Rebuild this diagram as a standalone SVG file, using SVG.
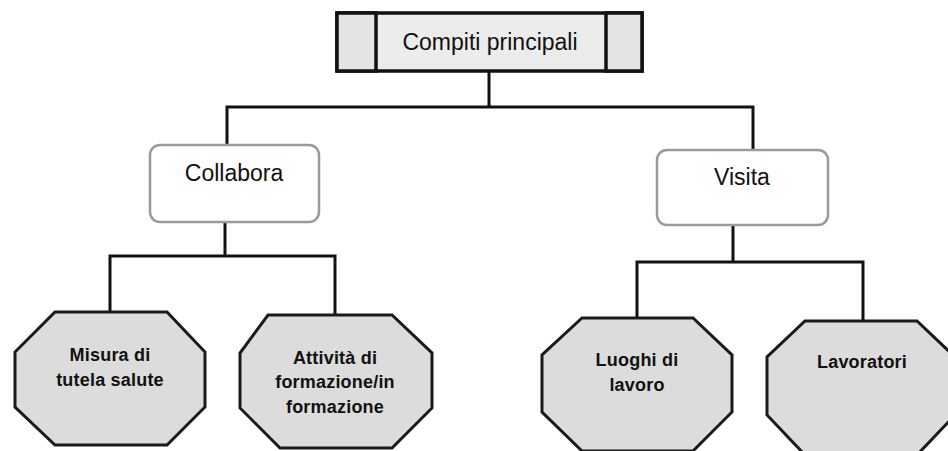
<svg xmlns="http://www.w3.org/2000/svg" width="948" height="451" viewBox="0 0 948 451">
<style>
.conn{stroke:#111;stroke-width:3;fill:none;stroke-linecap:square}
.top{fill:#ececec;stroke:#111;stroke-width:3.5}
.side{fill:#e4e4e4;stroke:#111;stroke-width:3.5}
.rbox{fill:#fff;stroke:#9a9a9a;stroke-width:2.5}
.oct{fill:#dcdcdc;stroke:#1a1a1a;stroke-width:3;stroke-linejoin:miter}
.t1{font-family:"Liberation Sans",Arial,sans-serif;font-size:23px;fill:#111;text-anchor:middle}
.t2{font-family:"Liberation Sans",Arial,sans-serif;font-size:18px;font-weight:bold;fill:#111;text-anchor:middle;letter-spacing:0.2px}
</style>
<rect width="948" height="451" fill="#fff"/>
<g id="connectors">
<path class="conn" d="M489,71 V107 M227,107 H753 M227,107 V145 M753,107 V150"/>
<path class="conn" d="M225,222 V256 M110,256 H335 M110,256 V312 M335,256 V315"/>
<path class="conn" d="M733,225 V262 M637,262 H863 M637,262 V318 M863,262 V321"/>
</g>
<g id="node-compiti">
<rect class="top" x="337" y="13" width="305" height="58"/>
<rect class="side" x="337" y="13" width="39" height="58"/>
<rect class="side" x="606" y="13" width="36" height="58"/>
<text class="t1" x="490" y="50">Compiti principali</text>
</g>
<g id="node-collabora">
<rect class="rbox" x="150" y="145" width="169" height="77" rx="10"/>
<text class="t1" x="234" y="181">Collabora</text>
</g>
<g id="node-visita">
<rect class="rbox" x="657" y="150" width="171" height="75" rx="10"/>
<text class="t1" x="742" y="185">Visita</text>
</g>
<g id="node-misura">
<polygon class="oct" points="55,312 167,312 205,352 205,407 167,445 55,445 15,407 15,352"/>
<text class="t2" x="110" y="361">Misura di</text>
<text class="t2" x="110" y="386">tutela salute</text>
</g>
<g id="node-attivita">
<polygon class="oct" points="268,315 392,315 432,353 432,408 392,448 280,448 240,408 240,353"/>
<text class="t2" x="335" y="364">Attività di</text>
<text class="t2" x="335" y="388">formazione/in</text>
<text class="t2" x="335" y="413">formazione</text>
</g>
<g id="node-luoghi">
<polygon class="oct" points="582,318 693,318 732,355 732,412 693,451 582,451 542,412 542,355"/>
<text class="t2" x="637" y="366">Luoghi di</text>
<text class="t2" x="637" y="391">lavoro</text>
</g>
<g id="node-lavoratori">
<polygon class="oct" points="805,321 917,321 955,357 955,415 917,455 805,455 767,415 767,357"/>
<text class="t2" x="862" y="368">Lavoratori</text>
</g>
</svg>
